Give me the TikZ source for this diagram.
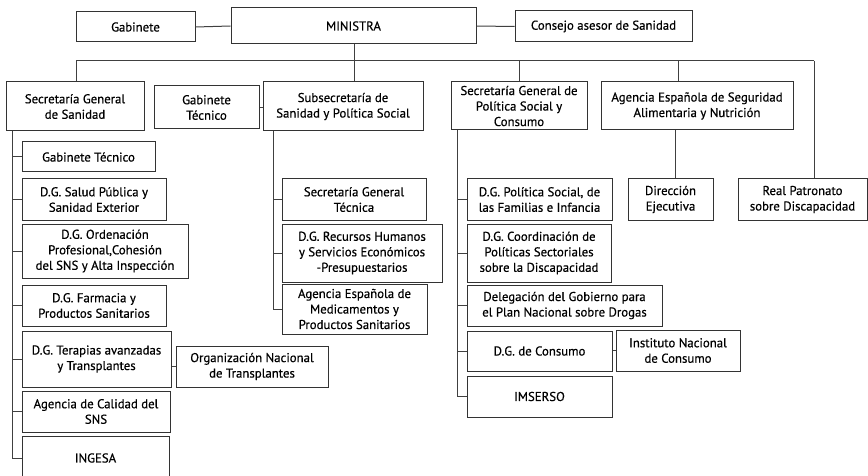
\documentclass[tikz,border=0pt]{standalone}
\usepackage{fontspec}
\setmainfont{PT Sans}[FakeBold=0.5]
\begin{document}
\begin{tikzpicture}[x=1pt,y=-1pt,
  bx/.style={draw=black!80,line width=1pt,fill=white,inner sep=1pt,align=center,
    font=\fontsize{12.8}{15.5}\selectfont,text=black},
  ln/.style={draw=black!75,line width=1pt}]
\useasboundingbox[fill=white] (0,0) rectangle (868,476);
% top row
\node[bx,minimum width=119pt,minimum height=30pt] (gab) at (135.5,27) {Gabinete};
\node[bx,minimum width=245pt,minimum height=36pt] (min) at (353.5,26) {MINISTRA};
\node[bx,minimum width=177pt,minimum height=31pt] (cons) at (603.5,26.5) {Consejo asesor de Sanidad};
% second row
\node[bx,minimum width=138pt,minimum height=49pt] (sgs) at (75,106.5) {Secretaría General\\de Sanidad};
\node[bx,minimum width=105pt,minimum height=43pt] (gt1) at (206.5,107.5) {Gabinete\\Técnico};
\node[bx,minimum width=160pt,minimum height=49pt] (sub) at (343,106.5) {Subsecretaría de\\Sanidad y Política Social};
\node[bx,minimum width=136pt,minimum height=48pt] (sgp) at (519,106) {Secretaría General de\\Política Social y\\Consumo};
\node[bx,minimum width=192pt,minimum height=48pt] (aes) at (697,106) {Agencia Española de Seguridad\\Alimentaria y Nutrición};
% left column
\node[bx,minimum width=133pt,minimum height=30pt] (gt2) at (88.5,157) {Gabinete Técnico};
\node[bx,minimum width=144pt,minimum height=41pt] (dgsp) at (94,199.5) {D.G. Salud Pública y\\Sanidad Exterior};
\node[bx,minimum width=166pt,minimum height=54pt] (dgo) at (105,251) {D.G. Ordenación\\Profesional,Cohesión\\del SNS y Alta Inspección};
\node[bx,minimum width=144pt,minimum height=41pt] (dgf) at (94,305.5) {D.G. Farmacia y\\Productos Sanitarios};
\node[bx,minimum width=149pt,minimum height=56pt] (dgt) at (96.5,359) {D.G. Terapias avanzadas\\y Transplantes};
\node[bx,minimum width=152pt,minimum height=41pt] (ont) at (252,366.5) {Organización Nacional\\de Transplantes};
\node[bx,minimum width=148pt,minimum height=41pt] (acs) at (96,411.5) {Agencia de Calidad del\\SNS};
\node[bx,minimum width=147pt,minimum height=44pt] (ing) at (95.5,458) {INGESA};
% subsecretaria column
\node[bx,minimum width=144pt,minimum height=41pt] (sgt) at (354,199.5) {Secretaría General\\Técnica};
\node[bx,minimum width=160pt,minimum height=58pt] (dgrh) at (362,253) {D.G. Recursos Humanos\\y Servicios Económicos\\-Presupuestarios};
\node[bx,minimum width=145pt,minimum height=50pt] (aem) at (354.5,309) {Agencia Española de\\Medicamentos y\\Productos Sanitarios};
% SGPSC column
\node[bx,minimum width=145pt,minimum height=41pt] (dgps) at (539.5,199.5) {D.G. Política Social, de\\las Familias e Infancia};
\node[bx,minimum width=144pt,minimum height=58pt] (dgc) at (539,253) {D.G. Coordinación de\\Políticas Sectoriales\\sobre la Discapacidad};
\node[bx,minimum width=195pt,minimum height=41pt] (del) at (564.5,305.5) {Delegación del Gobierno para\\el Plan Nacional sobre Drogas};
\node[bx,minimum width=145pt,minimum height=40pt] (dgcons) at (539.5,351) {D.G. de Consumo};
\node[bx,minimum width=124pt,minimum height=41pt] (inc) at (678,350.5) {Instituto Nacional\\de Consumo};
\node[bx,minimum width=145pt,minimum height=41pt] (ims) at (539.5,396.5) {IMSERSO};
% right
\node[bx,minimum width=85pt,minimum height=41pt] (de) at (670.5,199.5) {Dirección\\Ejecutiva};
\node[bx,minimum width=129pt,minimum height=41pt] (rp) at (802.5,199.5) {Real Patronato\\sobre Discapacidad};
% coordinates
\coordinate (busL) at (76,61);
\coordinate (busR) at (814,61);
\coordinate (busM) at (354,61);
\coordinate (busS) at (519,61);
\coordinate (busA) at (678,61);
\coordinate (lv) at (12,131);
\coordinate (sv) at (273,131);
\coordinate (pv) at (457,130);
\coordinate (av) at (675,130);
% connectors
\draw[ln] (gab.east) -- (min.west);
\draw[ln] (min.east) -- (cons.west);
\draw[ln] (min.south -| busM) -- (busM);
\draw[ln] (busL) -- (busR);
\draw[ln] (busL) -- (busL |- sgs.north);
\draw[ln] (busM) -- (busM |- sub.north);
\draw[ln] (busS) -- (busS |- sgp.north);
\draw[ln] (busA) -- (busA |- aes.north);
\draw[ln] (busR) -- (busR |- rp.north);
\draw[ln] (gt1.east) -- (gt1.east -| sub.west);
\draw[ln] (av) -- (av |- de.north);
% left bus
\draw[ln] (lv) -- (lv |- ing.west) -- (ing.west);
\foreach \n in {gt2,dgsp,dgo,dgf,dgt,acs} \draw[ln] (lv |- \n.west) -- (\n.west);
\draw[ln] (ont.west) -- (ont.west -| dgt.east);
% sub bus
\draw[ln] (sv) -- (sv |- aem.west) -- (aem.west);
\foreach \n in {sgt,dgrh} \draw[ln] (sv |- \n.west) -- (\n.west);
% sgp bus
\draw[ln] (pv) -- (pv |- ims.west) -- (ims.west);
\foreach \n in {dgps,dgc,del,dgcons} \draw[ln] (pv |- \n.west) -- (\n.west);
\draw[ln] (inc.west) -- (inc.west -| dgcons.east);
\end{tikzpicture}
\end{document}
